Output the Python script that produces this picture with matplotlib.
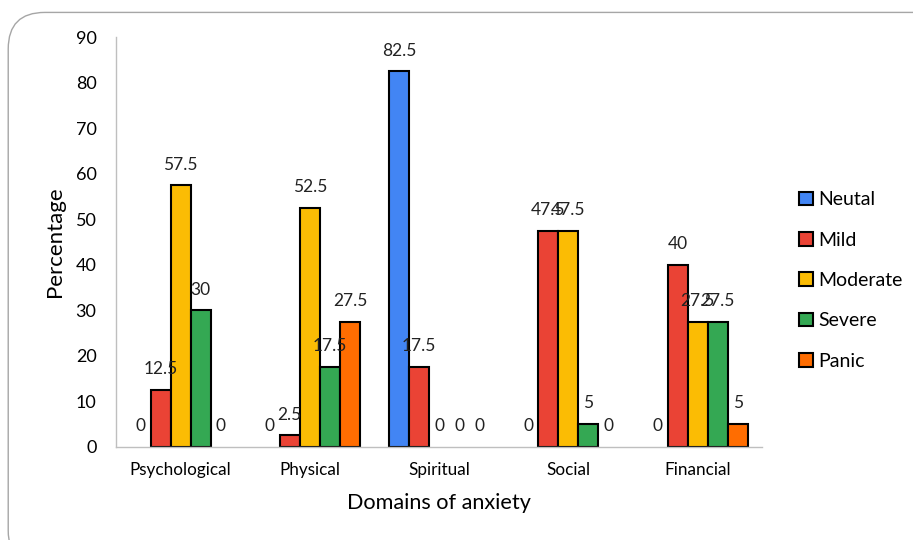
import matplotlib.pyplot as plt
from matplotlib.patches import FancyBboxPatch
import numpy as np

plt.rcParams['font.family'] = ['Lato', 'DejaVu Sans']

# anxiety domains and the percentage in each level
domains = ['Psychological', 'Physical', 'Spiritual', 'Social', 'Financial']
levels = ['Neutal', 'Mild', 'Moderate', 'Severe', 'Panic']
neutal = [0, 0, 82.5, 0, 0]
mild = [12.5, 2.5, 17.5, 47.5, 40]
moderate = [57.5, 52.5, 0, 47.5, 27.5]
severe = [30, 17.5, 0, 5, 27.5]
panic = [0, 27.5, 0, 0, 5]
series = [neutal, mild, moderate, severe, panic]
colors = ['#4285F4', '#EA4335', '#FBBC04', '#34A853', '#FF6D01']

fig = plt.figure(figsize=(9.13, 5.4), dpi=100)
# rounded frame around the chart
frame = FancyBboxPatch((0.009, -0.05), 1.05, 1.027, boxstyle='round,pad=0,rounding_size=0.04',
                       transform=fig.transFigure, facecolor='none', edgecolor='#A6A6A6',
                       linewidth=1.0, mutation_aspect=913 / 540, zorder=-1)
fig.patches.append(frame)

ax = fig.add_axes([0.127, 0.173, 0.708, 0.758])
ax.patch.set_alpha(0)

x = np.arange(len(domains))
w = 0.155
for i, (vals, c, name) in enumerate(zip(series, colors, levels)):
    pos = x + (i - 2) * w
    lw = [1.5 if v > 0 else 0 for v in vals]
    ax.bar(pos, vals, w, color=c, edgecolor='black', linewidth=lw, label=name)
    for px, v in zip(pos, vals):
        ax.annotate(f'{v:g}', (px, v), xytext=(0, 9), textcoords='offset points',
                    ha='center', va='bottom', fontsize=12.5, color='#222222')

ax.set_xlim(-0.5, len(domains) - 0.5)
ax.set_ylim(0, 90)
ax.set_yticks(range(0, 91, 10))
ax.set_xticks(x)
ax.set_xticklabels(domains, fontsize=12.3)
ax.tick_params(axis='y', length=0, pad=14, labelsize=13)
ax.tick_params(axis='x', length=0, pad=11)
for s in ['top', 'right']:
    ax.spines[s].set_visible(False)
for s in ['left', 'bottom']:
    ax.spines[s].set_color('#BFBFBF')
    ax.spines[s].set_linewidth(1.0)

ax.set_ylabel('Percentage', fontsize=16, labelpad=8)
ax.set_xlabel('Domains of anxiety', fontsize=15.6, labelpad=11)

leg = ax.legend(loc='center left', bbox_to_anchor=(1.03, 0.406), frameon=False,
                fontsize=14, handlelength=0.7, handleheight=0.7,
                handletextpad=0.3, labelspacing=1.2)
for h in leg.legend_handles:
    h.set_linewidth(1.5)

fig.savefig('out.png', dpi=100)
